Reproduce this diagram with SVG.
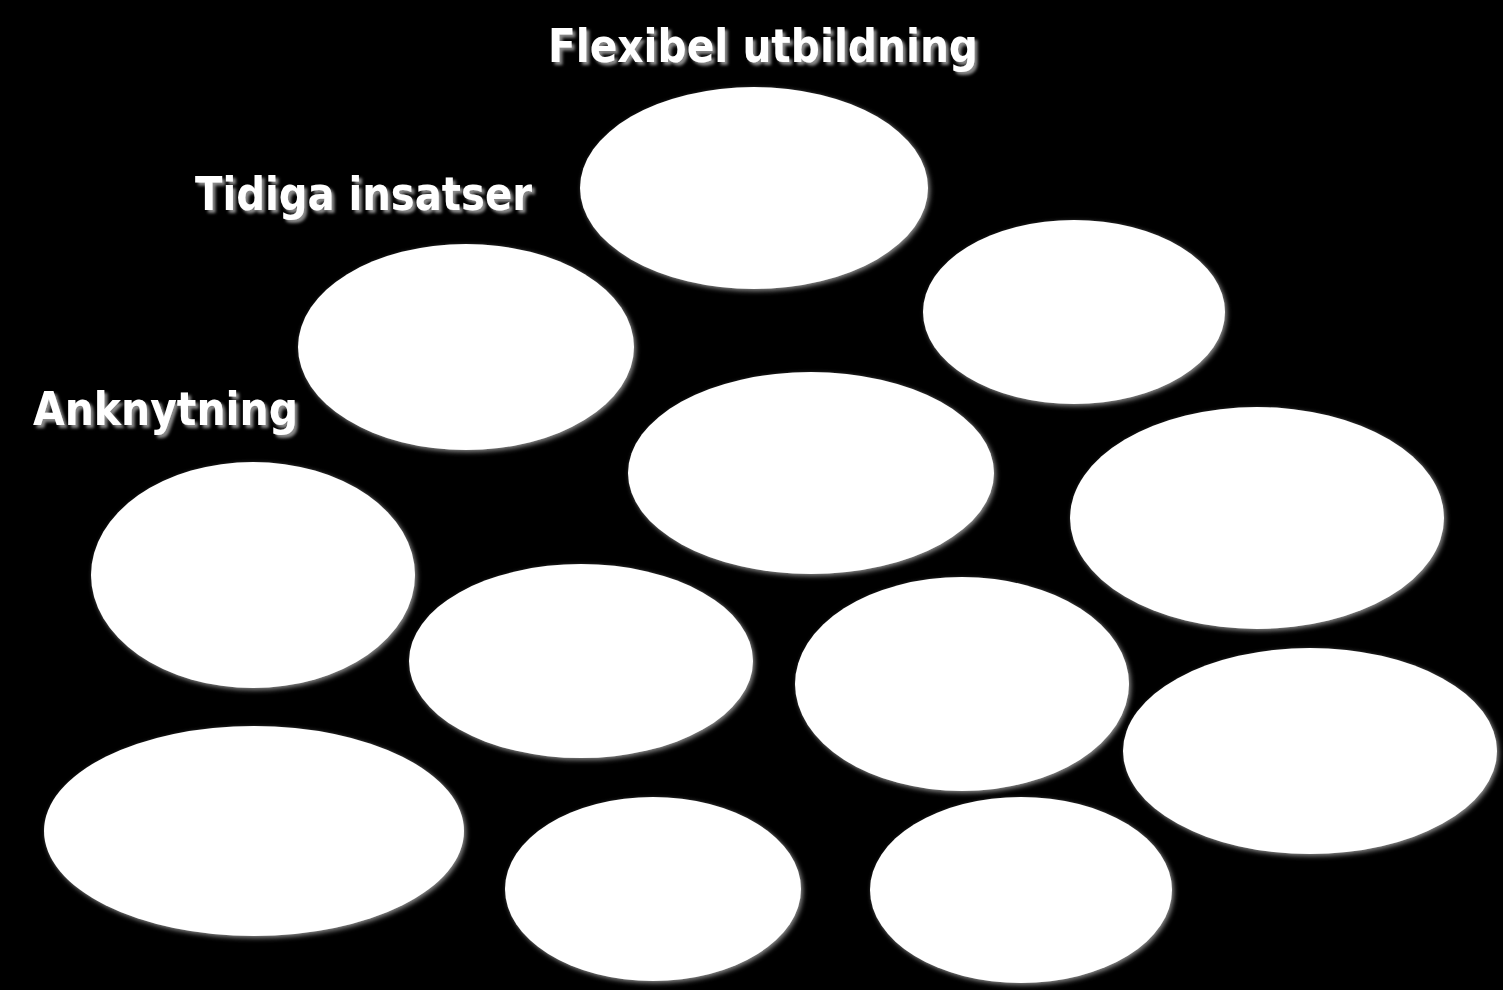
<svg xmlns="http://www.w3.org/2000/svg" width="1503" height="990" viewBox="0 0 1503 990">
<defs>
<filter id="sh" x="-10%" y="-10%" width="125%" height="125%">
<feGaussianBlur in="SourceAlpha" stdDeviation="2.5"/>
<feOffset dx="2" dy="2" result="b"/>
<feFlood flood-color="#8a8a8a"/>
<feComposite in2="b" operator="in" result="s"/>
<feMerge><feMergeNode in="s"/><feMergeNode in="SourceGraphic"/></feMerge>
</filter>
<filter id="tsh" x="-10%" y="-30%" width="125%" height="170%">
<feGaussianBlur in="SourceAlpha" stdDeviation="1.5"/>
<feOffset dx="3" dy="3" result="b"/>
<feFlood flood-color="#8a8a8a"/>
<feComposite in2="b" operator="in" result="s"/>
<feMerge><feMergeNode in="s"/><feMergeNode in="SourceGraphic"/></feMerge>
</filter>
</defs>
<style>
.n{fill:#ffffff;filter:url(#sh)}
.t{fill:#ffffff;font-family:"DejaVu Sans","Liberation Sans",sans-serif;font-weight:bold;font-size:46px;filter:url(#tsh)}
</style>
<rect x="0" y="0" width="1503" height="990" fill="#000000"/>
<g id="n1"><ellipse class="n" cx="754" cy="188" rx="174" ry="101"/></g>
<g id="n2"><ellipse class="n" cx="1074" cy="312" rx="151" ry="92"/></g>
<g id="n3"><ellipse class="n" cx="466" cy="347" rx="168" ry="103"/></g>
<g id="n4"><ellipse class="n" cx="811" cy="473" rx="183" ry="101"/></g>
<g id="n5"><ellipse class="n" cx="1257" cy="518" rx="187" ry="111"/></g>
<g id="n6"><ellipse class="n" cx="253" cy="575" rx="162" ry="113"/></g>
<g id="n7"><ellipse class="n" cx="581" cy="661" rx="172" ry="97"/></g>
<g id="n8"><ellipse class="n" cx="962" cy="684" rx="167" ry="107"/></g>
<g id="n9"><ellipse class="n" cx="1310" cy="751" rx="187" ry="103"/></g>
<g id="n10"><ellipse class="n" cx="254" cy="831" rx="210" ry="105"/></g>
<g id="n11"><ellipse class="n" cx="653" cy="889" rx="148" ry="92"/></g>
<g id="n12"><ellipse class="n" cx="1021" cy="890" rx="151" ry="93"/></g>
<g id="labels">
<text class="t" x="548" y="62" textLength="430" lengthAdjust="spacingAndGlyphs">Flexibel utbildning</text>
<text class="t" x="195" y="210" textLength="337" lengthAdjust="spacingAndGlyphs">Tidiga insatser</text>
<text class="t" x="33" y="425" textLength="265" lengthAdjust="spacingAndGlyphs">Anknytning</text>
</g>
<g id="connectors"></g>
</svg>
